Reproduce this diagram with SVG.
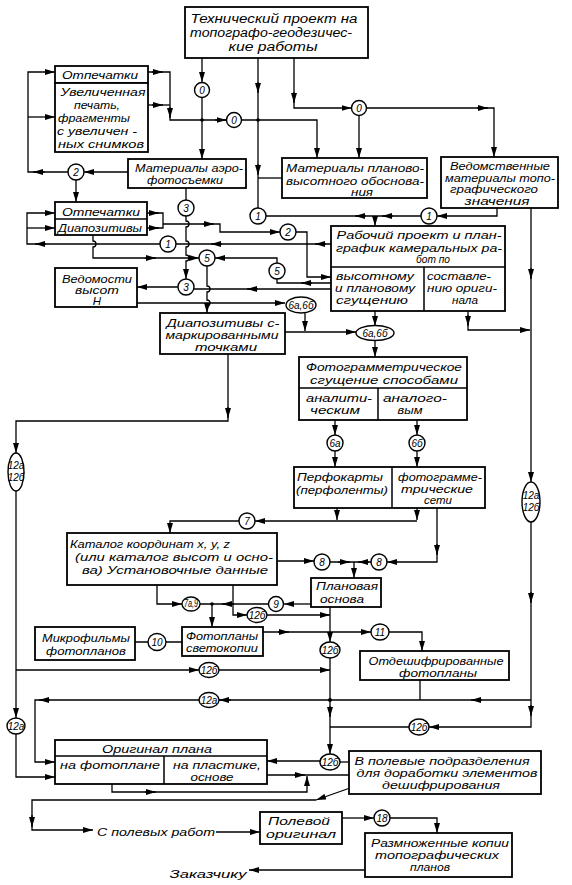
<svg xmlns="http://www.w3.org/2000/svg" width="572" height="885" viewBox="0 0 572 885">
<defs>
<marker id="ah" viewBox="0 0 10 6" refX="10" refY="3" markerWidth="10" markerHeight="6" markerUnits="userSpaceOnUse" orient="auto"><path d="M0,0 L10,3 L0,6 z" fill="#000"/></marker>
<style>
.b{fill:#fff;stroke:#000;stroke-width:1.8}
.d{fill:none;stroke:#000;stroke-width:1.5}
.l{fill:none;stroke:#000;stroke-width:1.3}
.a{fill:none;stroke:#000;stroke-width:1.3;marker-end:url(#ah)}
.c{fill:#fff;stroke:#000;stroke-width:1.4}
.dot{fill:#000}
text{font-family:"Liberation Sans","DejaVu Sans",sans-serif;font-style:italic;font-size:11.5px;fill:#000;text-anchor:middle}
.big{font-size:12px}
.n{font-size:10px}
</style>
</defs>
<rect width="572" height="885" fill="#fff"/>
<g id="connectors">
<path class="a" d="M202,58 V82"/>
<path class="a" d="M202,97.5 V159"/>
<path class="l" d="M258,58 V208"/>
<path class="a" d="M258,82 V93"/>
<path class="a" d="M258,164 V175"/>
<path class="l" d="M258,178 H282"/>
<path class="l" d="M148,72 H170 V120 H226"/>
<path class="l" d="M148,105 H170"/>
<path class="a" d="M152,72 H163"/>
<path class="a" d="M152,105 H163"/>
<path class="a" d="M170,107 V118"/>
<path class="a" d="M215,120 H226.5"/>
<path class="a" d="M241.5,120 H317 V158"/>
<path class="a" d="M294,58 V108 H351.5"/>
<path class="a" d="M294,92 V103"/>
<path class="a" d="M359,115.5 V158"/>
<path class="a" d="M366.5,108 H494 V157"/>
<path class="a" d="M477,108 H488"/>
<path class="a" d="M68,172 H28 V72 H55"/>
<path class="a" d="M45,172 H33"/>
<path class="a" d="M28,117 H55"/>
<path class="a" d="M128,172 H84"/>
<path class="a" d="M76,180 V202"/>
<path class="l" d="M147,213 H163 V228 H147"/>
<path class="a" d="M149,213 H159"/>
<path class="a" d="M149,228 H159"/>
<path class="a" d="M163,224 H220 V232 H280"/>
<path class="a" d="M203,224 H214"/>
<path class="a" d="M296,232 H307 V277 H331"/>
<path class="a" d="M331,244 H27 V213 H55"/>
<path class="a" d="M27,228 H55"/>
<path class="a" d="M326,244 H315"/>
<path class="a" d="M222,244 H211"/>
<path class="a" d="M46,244 H35"/>
<path class="a" d="M497,208 V216 H437"/>
<path class="l" d="M421,216 H266"/>
<path class="a" d="M366,216 H355"/>
<path class="a" d="M393,216 H382"/>
<path class="a" d="M375,216 V226"/>
<path class="l" d="M186,188 V200"/>
<path class="a" d="M186,216 V221 a3,3 0 0 1 0,6 V241 a3,3 0 0 1 0,6 V255 a3,3 0 0 1 0,6 V279"/>
<path class="a" d="M178,287 H137"/>
<path class="l" d="M331,289 H194"/>
<path class="a" d="M258,289 H247"/>
<path class="l" d="M331,283 H277 V279"/>
<path class="a" d="M312,283 H301"/>
<path class="a" d="M277,263 V258 H215"/>
<path class="a" d="M93,235 V241 a3,3 0 0 1 0,6 V258 H199"/>
<path class="a" d="M145,258 H156"/>
<path class="a" d="M207,266 V286 a3,3 0 0 1 0,6 V300 a3,3 0 0 1 0,6 V313"/>
<path class="a" d="M137,303 H285"/>
<path class="a" d="M305,313 V331"/>
<path class="a" d="M285,332 H356"/>
<path class="a" d="M375,311 V326"/>
<path class="a" d="M375,340 V357"/>
<path class="a" d="M468,311 V330 H530"/>
<path class="a" d="M468,315 V326"/>
<path class="a" d="M531,208 V482"/>
<path class="a" d="M531,268 V279"/>
<path class="a" d="M531,522 V727 H429"/>
<path class="a" d="M531,592 V603"/>
<path class="a" d="M531,705 V716"/>
<path class="a" d="M531,700 H35 V762 H55"/>
<path class="a" d="M482,700 H471"/>
<path class="a" d="M231,700 H219"/>
<path class="a" d="M50,700 H39"/>
<path class="l" d="M420,680 V700"/>
<path class="a" d="M330,607 V642"/>
<path class="a" d="M330,658 V754"/>
<path class="a" d="M330,706 V717"/>
<path class="l" d="M330,727 H409"/>
<path class="a" d="M320,761 H267"/>
<path class="l" d="M340,762 H349"/>
<path class="l" d="M267,775 H349"/>
<path class="a" d="M294,775 H305"/>
<path class="a" d="M112,784 V792 H307 V776"/>
<path class="a" d="M145,792 H156"/>
<path class="a" d="M350,788 L316,800"/>
<path class="a" d="M316,800 H32 V830 H93"/>
<path class="a" d="M32,815 V827"/>
<path class="a" d="M216,832 H260"/>
<path class="a" d="M342,818 H374"/>
<path class="a" d="M390,818 H437 V833"/>
<path class="a" d="M365,870 H249"/>
<path class="a" d="M335,420 V435"/>
<path class="a" d="M417,420 V435"/>
<path class="a" d="M335,451 V467"/>
<path class="a" d="M417,451 V467"/>
<path class="a" d="M337,508 V520"/>
<path class="a" d="M417,508 V520"/>
<path class="a" d="M417,521 H255"/>
<path class="a" d="M239,521 H170 V533"/>
<path class="a" d="M437,508 V562 H387"/>
<path class="a" d="M437,544 V555"/>
<path class="a" d="M277,561 H314"/>
<path class="l" d="M330,562 H371"/>
<path class="a" d="M338,562 H350"/>
<path class="a" d="M369,562 H358"/>
<path class="a" d="M354,562 V578"/>
<path class="a" d="M157,585 V604 H182"/>
<path class="a" d="M200,604 H212 V627"/>
<path class="l" d="M268,604 H212"/>
<path class="a" d="M234,604 H222"/>
<path class="a" d="M233,585 V615 H247"/>
<path class="a" d="M311,604 H284"/>
<path class="a" d="M267,615 H330"/>
<path class="a" d="M263,632 H371"/>
<path class="a" d="M278,632 H289"/>
<path class="a" d="M389,632 H422 V651"/>
<path class="l" d="M135,642 H182"/>
<path class="a" d="M228,354 V421 H16 V453"/>
<path class="a" d="M228,407 V418"/>
<path class="a" d="M16,491 V718"/>
<path class="a" d="M16,734 V777 H55"/>
<path class="a" d="M16,670 H199"/>
<path class="a" d="M219,670 H330"/>
<circle class="dot" cx="202" cy="120" r="1.8"/>
<circle class="dot" cx="258" cy="120" r="1.8"/>
<circle class="dot" cx="212" cy="604" r="1.8"/>
<circle class="dot" cx="330" cy="700" r="2"/>
</g>
<g id="n-tech"><rect class="b" x="185" y="7" width="183" height="51"/>
<text class="big" x="274" y="23" textLength="167" lengthAdjust="spacingAndGlyphs">Технический проект на</text>
<text class="big" x="271" y="37" textLength="162" lengthAdjust="spacingAndGlyphs">топографо-геодезичес-</text>
<text class="big" x="273" y="51" textLength="89" lengthAdjust="spacingAndGlyphs">кие работы</text></g>
<g id="n-otp1"><rect class="b" x="55" y="66" width="93" height="17"/><rect class="b" x="55" y="83" width="93" height="69"/>
<text x="100" y="79" textLength="76" lengthAdjust="spacingAndGlyphs">Отпечатки</text>
<text x="103" y="96" textLength="85" lengthAdjust="spacingAndGlyphs">Увеличенная</text>
<text x="97" y="109" textLength="46" lengthAdjust="spacingAndGlyphs">печать,</text>
<text x="94" y="122" textLength="72" lengthAdjust="spacingAndGlyphs">фрагменты</text>
<text x="97" y="135" textLength="80" lengthAdjust="spacingAndGlyphs">с увеличен -</text>
<text x="101" y="148" textLength="86" lengthAdjust="spacingAndGlyphs">ных снимков</text></g>
<g id="n-aero"><rect class="b" x="128" y="159" width="118" height="29"/>
<text x="189" y="172" textLength="108" lengthAdjust="spacingAndGlyphs">Материалы аэро-</text>
<text x="185" y="184" textLength="76" lengthAdjust="spacingAndGlyphs">фотосъемки</text></g>
<g id="n-plan"><rect class="b" x="282" y="158" width="145" height="40"/>
<text x="355" y="172" textLength="138" lengthAdjust="spacingAndGlyphs">Материалы планово-</text>
<text x="355" y="185" textLength="138" lengthAdjust="spacingAndGlyphs">высотного обоснова-</text>
<text x="362" y="196" textLength="22" lengthAdjust="spacingAndGlyphs">ния</text></g>
<g id="n-ved"><rect class="b" x="441" y="157" width="117" height="51"/>
<text x="500" y="170" textLength="100" lengthAdjust="spacingAndGlyphs">Ведомственные</text>
<text x="500" y="182" textLength="110" lengthAdjust="spacingAndGlyphs">материалы топо-</text>
<text x="494" y="193" textLength="88" lengthAdjust="spacingAndGlyphs">графического</text>
<text x="497" y="205" textLength="65" lengthAdjust="spacingAndGlyphs">значения</text></g>
<g id="n-otp2"><rect class="b" x="55" y="202" width="92" height="33"/><path class="d" d="M55,219 H147"/>
<text x="101" y="216" textLength="78" lengthAdjust="spacingAndGlyphs">Отпечатки</text>
<text x="100" y="232" textLength="84" lengthAdjust="spacingAndGlyphs">Диапозитивы</text></g>
<g id="n-rab"><rect class="b" x="331" y="226" width="174" height="85"/><path class="d" d="M331,267 H505 M424,267 V311"/>
<text x="419" y="239" textLength="165" lengthAdjust="spacingAndGlyphs">Рабочий проект и план-</text>
<text x="419" y="252" textLength="166" lengthAdjust="spacingAndGlyphs">график камеральных ра-</text>
<text x="433" y="263" textLength="34" lengthAdjust="spacingAndGlyphs">бот по</text>
<text x="375" y="280" textLength="78" lengthAdjust="spacingAndGlyphs">высотному</text>
<text x="375" y="292" textLength="80" lengthAdjust="spacingAndGlyphs">и плановому</text>
<text x="372" y="304" textLength="72" lengthAdjust="spacingAndGlyphs">сгущению</text>
<text x="459" y="280" textLength="64" lengthAdjust="spacingAndGlyphs">составле-</text>
<text x="462" y="292" textLength="70" lengthAdjust="spacingAndGlyphs">нию ориги-</text>
<text x="465" y="304" textLength="26" lengthAdjust="spacingAndGlyphs">нала</text></g>
<g id="n-vedH"><rect class="b" x="55" y="268" width="82" height="39"/>
<text x="97" y="283" textLength="70" lengthAdjust="spacingAndGlyphs">Ведомости</text>
<text x="97" y="294" textLength="44" lengthAdjust="spacingAndGlyphs">высот</text>
<text x="97" y="305">H</text></g>
<g id="n-diam"><rect class="b" x="160" y="313" width="125" height="41"/>
<text x="223" y="327" textLength="113" lengthAdjust="spacingAndGlyphs">Диапозитивы с-</text>
<text x="222" y="339" textLength="113" lengthAdjust="spacingAndGlyphs">маркированными</text>
<text x="226" y="351" textLength="62" lengthAdjust="spacingAndGlyphs">точками</text></g>
<g id="n-foto"><rect class="b" x="299" y="357" width="168" height="63"/><path class="d" d="M299,388 H467 M378,388 V420"/>
<text x="384" y="371" textLength="156" lengthAdjust="spacingAndGlyphs">Фотограмметрическое</text>
<text x="384" y="384" textLength="148" lengthAdjust="spacingAndGlyphs">сгущение способами</text>
<text x="339" y="402" textLength="66" lengthAdjust="spacingAndGlyphs">аналити-</text>
<text x="335" y="414" textLength="50" lengthAdjust="spacingAndGlyphs">ческим</text>
<text x="415" y="402" textLength="64" lengthAdjust="spacingAndGlyphs">аналого-</text>
<text x="410" y="414" textLength="25" lengthAdjust="spacingAndGlyphs">вым</text></g>
<g id="n-perf"><rect class="b" x="294" y="467" width="191" height="41"/><path class="d" d="M392,467 V508"/>
<text x="340" y="481" textLength="86" lengthAdjust="spacingAndGlyphs">Перфокарты</text>
<text x="342" y="494" textLength="92" lengthAdjust="spacingAndGlyphs">(перфоленты)</text>
<text x="440" y="481" textLength="84" lengthAdjust="spacingAndGlyphs">фотограмме-</text>
<text x="437" y="493" textLength="72" lengthAdjust="spacingAndGlyphs">трические</text>
<text x="438" y="504" textLength="28" lengthAdjust="spacingAndGlyphs">сети</text></g>
<g id="n-kat"><rect class="b" x="67" y="533" width="210" height="52"/>
<text x="150" y="548" textLength="160" lengthAdjust="spacingAndGlyphs">Каталог координат x, y, z</text>
<text x="174" y="561" textLength="198" lengthAdjust="spacingAndGlyphs">(или каталог высот и осно-</text>
<text x="175" y="574" textLength="186" lengthAdjust="spacingAndGlyphs">ва) Установочные данные</text></g>
<g id="n-osn"><rect class="b" x="311" y="578" width="70" height="29"/>
<text x="347" y="590" textLength="62" lengthAdjust="spacingAndGlyphs">Плановая</text>
<text x="342" y="603" textLength="44" lengthAdjust="spacingAndGlyphs">основа</text></g>
<g id="n-mikro"><rect class="b" x="35" y="627" width="100" height="33"/>
<text x="86" y="642" textLength="88" lengthAdjust="spacingAndGlyphs">Микрофильмы</text>
<text x="86" y="655" textLength="80" lengthAdjust="spacingAndGlyphs">фотопланов</text></g>
<g id="n-fotopl"><rect class="b" x="182" y="627" width="81" height="29"/>
<text x="222" y="640" textLength="72" lengthAdjust="spacingAndGlyphs">Фотопланы</text>
<text x="222" y="652" textLength="72" lengthAdjust="spacingAndGlyphs">светокопии</text></g>
<g id="n-otd"><rect class="b" x="360" y="651" width="149" height="29"/>
<text x="436" y="665" textLength="135" lengthAdjust="spacingAndGlyphs">Отдешифрированные</text>
<text x="438" y="677" textLength="78" lengthAdjust="spacingAndGlyphs">фотопланы</text></g>
<g id="n-orig"><rect class="b" x="55" y="740" width="212" height="44"/><path class="d" d="M55,756 H267 M164,756 V784"/>
<text x="157" y="753" textLength="110" lengthAdjust="spacingAndGlyphs">Оригинал плана</text>
<text x="110" y="769" textLength="100" lengthAdjust="spacingAndGlyphs">на фотоплане</text>
<text x="217" y="769" textLength="88" lengthAdjust="spacingAndGlyphs">на пластике,</text>
<text x="212" y="781" textLength="43" lengthAdjust="spacingAndGlyphs">основе</text></g>
<g id="n-pole"><rect class="b" x="349" y="751" width="192" height="43"/>
<text x="442" y="765" textLength="175" lengthAdjust="spacingAndGlyphs">В полевые подразделения</text>
<text x="447" y="777" textLength="181" lengthAdjust="spacingAndGlyphs">для доработки элементов</text>
<text x="441" y="789" textLength="118" lengthAdjust="spacingAndGlyphs">дешифрирования</text></g>
<g id="n-polorig"><rect class="b" x="260" y="812" width="82" height="32"/>
<text x="299" y="825" textLength="62" lengthAdjust="spacingAndGlyphs">Полевой</text>
<text x="301" y="838" textLength="70" lengthAdjust="spacingAndGlyphs">оригинал</text></g>
<g id="n-razm"><rect class="b" x="365" y="833" width="147" height="44"/>
<text x="440" y="847" textLength="138" lengthAdjust="spacingAndGlyphs">Размноженные копии</text>
<text x="437" y="859" textLength="124" lengthAdjust="spacingAndGlyphs">топографических</text>
<text x="430" y="871" textLength="40" lengthAdjust="spacingAndGlyphs">планов</text></g>
<g id="t-spr"><text x="156" y="836" textLength="118" lengthAdjust="spacingAndGlyphs">С полевых работ</text></g>
<g id="t-zak"><text x="208" y="878" textLength="77" lengthAdjust="spacingAndGlyphs">Заказчику</text></g>
<g id="c-0a"><circle class="c" cx="202" cy="90" r="7.5"/><text class="n" x="202" y="93.5">0</text></g>
<g id="c-0b"><circle class="c" cx="234" cy="120" r="7.5"/><text class="n" x="234" y="123.5">0</text></g>
<g id="c-0c"><circle class="c" cx="359" cy="108" r="7.5"/><text class="n" x="359" y="111.5">0</text></g>
<g id="c-2a"><circle class="c" cx="76" cy="172" r="8"/><text class="n" x="76" y="175.5">2</text></g>
<g id="c-3a"><circle class="c" cx="186" cy="208" r="8"/><text class="n" x="186" y="211.5">3</text></g>
<g id="c-1a"><circle class="c" cx="258" cy="216" r="8"/><text class="n" x="258" y="219.5">1</text></g>
<g id="c-1c"><circle class="c" cx="429" cy="216" r="8"/><text class="n" x="429" y="219.5">1</text></g>
<g id="c-2b"><circle class="c" cx="288" cy="232" r="8"/><text class="n" x="288" y="235.5">2</text></g>
<g id="c-1b"><circle class="c" cx="168" cy="244" r="8"/><text class="n" x="168" y="247.5">1</text></g>
<g id="c-5a"><circle class="c" cx="207" cy="258" r="8"/><text class="n" x="207" y="261.5">5</text></g>
<g id="c-5b"><circle class="c" cx="277" cy="271" r="8"/><text class="n" x="277" y="274.5">5</text></g>
<g id="c-3b"><circle class="c" cx="186" cy="287" r="8"/><text class="n" x="186" y="290.5">3</text></g>
<g id="c-6ab1"><ellipse class="c" cx="301" cy="305" rx="15" ry="8"/><text class="n" x="301" y="308.5">6а,6б</text></g>
<g id="c-6ab2"><ellipse class="c" cx="375" cy="333" rx="19" ry="7.5"/><text class="n" x="375" y="336.5">6а,6б</text></g>
<g id="c-6a"><circle class="c" cx="335" cy="443" r="8"/><text class="n" x="335" y="446.5">6а</text></g>
<g id="c-6b"><circle class="c" cx="417" cy="443" r="8"/><text class="n" x="417" y="446.5">6б</text></g>
<g id="c-12l"><ellipse class="c" cx="16" cy="472" rx="8" ry="19"/><text class="n" x="16" y="469">12а</text><text class="n" x="16" y="481">12б</text></g>
<g id="c-12r"><ellipse class="c" cx="531" cy="502" rx="9" ry="20"/><text class="n" x="531" y="499">12а</text><text class="n" x="531" y="511">12б</text></g>
<g id="c-7"><circle class="c" cx="247" cy="521" r="8"/><text class="n" x="247" y="524.5">7</text></g>
<g id="c-8a"><circle class="c" cx="322" cy="562" r="8"/><text class="n" x="322" y="565.5">8</text></g>
<g id="c-8b"><circle class="c" cx="379" cy="562" r="8"/><text class="n" x="379" y="565.5">8</text></g>
<g id="c-7a9"><ellipse class="c" cx="191" cy="604" rx="9" ry="7"/><text class="n" x="191" y="607" textLength="14" lengthAdjust="spacingAndGlyphs">7а,9</text></g>
<g id="c-9"><circle class="c" cx="276" cy="604" r="7.5"/><text class="n" x="276" y="607.5">9</text></g>
<g id="c-12b1"><ellipse class="c" cx="257" cy="615" rx="10" ry="7.5"/><text class="n" x="257" y="618.5">12б</text></g>
<g id="c-11"><ellipse class="c" cx="380" cy="632" rx="9" ry="8"/><text class="n" x="380" y="635.5">11</text></g>
<g id="c-10"><ellipse class="c" cx="157" cy="642" rx="9" ry="8.5"/><text class="n" x="157" y="645.5">10</text></g>
<g id="c-12b2"><ellipse class="c" cx="330" cy="650" rx="10" ry="8"/><text class="n" x="330" y="653.5">12б</text></g>
<g id="c-12b3"><ellipse class="c" cx="209" cy="670" rx="10" ry="7.5"/><text class="n" x="209" y="673.5">12б</text></g>
<g id="c-12a1"><ellipse class="c" cx="209" cy="700" rx="10" ry="7.5"/><text class="n" x="209" y="703.5">12а</text></g>
<g id="c-12a2"><ellipse class="c" cx="16" cy="726" rx="9" ry="8"/><text class="n" x="16" y="729.5">12а</text></g>
<g id="c-12b4"><ellipse class="c" cx="419" cy="727" rx="10" ry="8"/><text class="n" x="419" y="730.5">12б</text></g>
<g id="c-12b5"><ellipse class="c" cx="330" cy="762" rx="10" ry="8"/><text class="n" x="330" y="765.5">12б</text></g>
<g id="c-18"><circle class="c" cx="382" cy="818" r="8"/><text class="n" x="382" y="821.5">18</text></g>
</svg>
